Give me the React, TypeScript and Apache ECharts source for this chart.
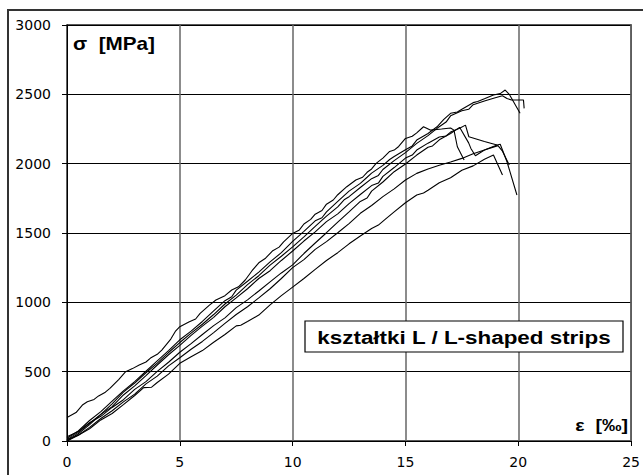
import React, { useEffect, useRef } from "react";
import * as echarts from "echarts";

const xTicks = { min: 0, max: 25, interval: 5 };
const yTicks = { min: 0, max: 3000, interval: 500 };

const yLabel = "σ  [MPa]";
const xLabel = "ε  [‰]";
const boxLabel = "kształtki L / L-shaped strips";

const curve1: number[][] = [
  [0, 170], [0.4, 205], [0.7, 262], [0.9, 283], [1.2, 300], [1.4, 325], [1.7, 352], [1.9, 380], [2.3, 445],
  [2.6, 500], [2.9, 522], [3.2, 548], [3.5, 570], [3.7, 598], [4.0, 625], [4.2, 656], [4.6, 735], [4.8, 790],
  [5, 824], [5.4, 858], [5.7, 880], [5.9, 920], [6.3, 978], [6.6, 1017], [7.0, 1048], [7.3, 1089], [7.6, 1112],
  [7.9, 1161], [8.2, 1228], [8.5, 1285], [8.8, 1318], [9.1, 1370], [9.4, 1398], [9.6, 1436], [10, 1497],
  [10.3, 1522], [10.5, 1565], [10.8, 1598], [11, 1636], [11.3, 1662], [11.5, 1708], [11.8, 1738], [12, 1776],
  [12.4, 1834], [12.8, 1882], [13.1, 1902], [13.3, 1938], [13.5, 1962], [13.7, 2002], [14.0, 2040],
  [14.3, 2088], [14.5, 2098], [14.7, 2124], [15, 2182], [15.3, 2198], [15.5, 2222], [15.8, 2266],
  [16.1, 2242], [16.6, 2250], [17, 2257], [17.15, 2242], [17.3, 2122], [17.6, 2026],
];

const curve2: number[][] = [
  [0, 20], [0.5, 72], [1, 148], [1.5, 212], [2, 288], [2.5, 362], [3, 428], [3.5, 503], [4, 578], [4.5, 652],
  [5, 730], [5.5, 792], [6, 862], [6.5, 938], [7, 1012], [7.3, 1040], [7.5, 1088], [8, 1152], [8.5, 1218],
  [9, 1292], [9.5, 1358], [10, 1440], [10.5, 1512], [11, 1588], [11.3, 1610], [11.5, 1652], [12, 1728],
  [12.5, 1802], [13, 1858], [13.3, 1902], [13.5, 1932], [14, 1988], [14.3, 2030], [14.5, 2052], [15, 2100],
  [15.3, 2128], [15.5, 2170], [16, 2218], [16.4, 2266], [16.7, 2320], [17, 2363], [17.3, 2372], [17.5, 2392],
  [18, 2440], [18.2, 2448], [18.5, 2468], [18.9, 2495], [19.2, 2505], [19.42, 2531], [19.6, 2500],
  [20.08, 2363],
];

const curve3: number[][] = [
  [0, 10], [0.5, 62], [1, 128], [1.5, 192], [2, 268], [2.5, 352], [3, 418], [3.5, 492], [4, 562], [4.5, 638],
  [5, 710], [5.5, 778], [6, 842], [6.5, 912], [7, 988], [7.5, 1052], [8, 1128], [8.5, 1192], [9, 1268],
  [9.5, 1332], [10, 1400], [10.5, 1472], [11, 1548], [11.5, 1622], [12, 1688], [12.3, 1742], [12.5, 1762],
  [13, 1828], [13.5, 1892], [13.8, 1915], [14, 1958], [14.5, 2022], [15, 2080], [15.5, 2146], [16, 2202],
  [16.4, 2255], [16.8, 2300], [17, 2345], [17.5, 2382], [17.8, 2392], [18, 2425], [18.5, 2452],
  [18.98, 2475], [19.3, 2490], [19.5, 2470], [19.7, 2459], [20.23, 2459], [20.26, 2399],
];

const curve4: number[][] = [
  [0, 0], [0.5, 52], [1, 118], [1.5, 192], [2, 248], [2.5, 332], [3, 398], [3.5, 472], [4, 548], [4.5, 622],
  [5, 690], [5.5, 762], [6, 828], [6.5, 892], [7, 968], [7.5, 1032], [8, 1098], [8.5, 1172], [9, 1228],
  [9.5, 1302], [10, 1370], [10.5, 1442], [11, 1508], [11.5, 1582], [12, 1638], [12.5, 1712], [13, 1778],
  [13.5, 1842], [13.8, 1860], [14, 1908], [14.5, 1972], [15, 2040], [15.3, 2062], [15.5, 2098], [16, 2148],
  [16.5, 2192], [16.8, 2200], [17, 2228], [17.4, 2256], [17.66, 2278], [17.81, 2194], [18.5, 2160],
  [19.06, 2134], [19.2, 2140], [19.5, 2014], [19.94, 1774],
];

const curve5: number[][] = [
  [0, 30], [0.5, 68], [1, 132], [1.5, 178], [2, 242], [2.5, 298], [3, 372], [3.5, 428], [4, 502], [4.5, 568],
  [5, 640], [5.5, 702], [6, 768], [6.5, 832], [7, 888], [7.5, 962], [8, 1018], [8.5, 1082], [9, 1148],
  [9.5, 1212], [10, 1270], [10.5, 1352], [11, 1428], [11.5, 1502], [12, 1578], [12.5, 1652], [13, 1728],
  [13.3, 1752], [13.5, 1802], [14, 1868], [14.5, 1942], [15, 1998], [15.5, 2062], [16, 2118], [16.2, 2128],
  [16.5, 2172], [17, 2218], [17.4, 2262], [17.8, 2150], [17.9, 2110], [18.1, 2057], [18.5, 2098],
  [19.1, 2130], [19.3, 2090], [19.6, 1990],
];

const curve6: number[][] = [
  [0, 0], [0.5, 42], [1, 98], [1.5, 162], [2, 218], [2.5, 282], [3, 338], [3.5, 412], [4, 468], [4.5, 542],
  [5, 600], [5.5, 662], [6, 718], [6.5, 782], [7, 848], [7.5, 912], [8, 968], [8.5, 1032], [9, 1098],
  [9.5, 1172], [10, 1250], [10.5, 1308], [11, 1382], [11.5, 1438], [12, 1502], [12.5, 1568], [13, 1642],
  [13.5, 1698], [14, 1762], [14.5, 1818], [15, 1882], [15.5, 1930], [16, 1962], [16.5, 1988], [17, 2012],
  [17.5, 2038], [18, 2072], [18.5, 2098], [19.06, 2134],
];

const curve7: number[][] = [
  [0, 10], [0.5, 42], [1, 88], [1.5, 152], [2, 198], [2.5, 262], [3, 328], [3.4, 385], [3.75, 388], [4, 422],
  [4.5, 482], [5, 560], [5.5, 608], [6, 652], [6.5, 712], [7, 768], [7.5, 830], [7.7, 835], [8, 862],
  [8.5, 908], [9, 982], [9.5, 1048], [10, 1110], [10.5, 1172], [11, 1238], [11.5, 1302], [12, 1358],
  [12.5, 1422], [13, 1478], [13.5, 1532], [13.8, 1557], [14.1, 1598], [14.5, 1652], [15, 1718], [15.5, 1774],
  [15.8, 1788], [16, 1808], [16.5, 1862], [17, 1898], [17.5, 1952], [18, 1984], [18.5, 2032], [18.9, 2062],
  [19.1, 1990], [19.3, 1918],
];

const curves = [curve1, curve2, curve3, curve4, curve5, curve6, curve7];

export default function App() {
  const ref = useRef<HTMLDivElement>(null);
  useEffect(() => {
    if (!ref.current) return;
    const chart = echarts.init(ref.current, null, { renderer: "svg" });
    const axisFont = '"DejaVu Sans", sans-serif';
    chart.setOption({
      animation: false,
      backgroundColor: "#fff",
      grid: {
        left: 67, right: 8, top: 25, bottom: 34,
        show: true, borderColor: "#222", borderWidth: 1.5, containLabel: false,
      },
      xAxis: {
        type: "value", min: xTicks.min, max: xTicks.max, interval: xTicks.interval,
        axisLine: { show: true, lineStyle: { color: "#000", width: 1 } },
        axisTick: { show: true, length: 5, lineStyle: { color: "#000" } },
        axisLabel: { color: "#000", fontSize: 14, fontFamily: axisFont, margin: 14, formatter: (v: number) => String(v) },
        splitLine: { show: true, lineStyle: { color: "#666", width: 1.5 } },
      },
      yAxis: {
        type: "value", min: yTicks.min, max: yTicks.max, interval: yTicks.interval,
        axisLine: { show: true, lineStyle: { color: "#000", width: 1 } },
        axisTick: { show: true, length: 5, lineStyle: { color: "#000" } },
        axisLabel: { color: "#000", fontSize: 14, fontFamily: axisFont, margin: 16, formatter: (v: number) => String(v) },
        splitLine: { show: true, lineStyle: { color: "#000", width: 1 } },
      },
      series: curves.map((c) => ({
        type: "line",
        data: c,
        showSymbol: false,
        symbol: "none",
        lineStyle: { color: "#000", width: 1.1 },
        z: 3,
      })),
      graphic: [
        {
          type: "rect", silent: true,
          shape: { x: 8, y: 10, width: 700, height: 600 },
          style: { fill: "none", stroke: "#333", lineWidth: 2 },
        },
        {
          type: "text", x: 73, y: 44, scaleX: 1.15,
          style: { text: yLabel, font: 'bold 18px "Liberation Sans", Arial, sans-serif', fill: "#000", verticalAlign: "middle", align: "left" },
        },
        {
          type: "text", x: 628, y: 425, scaleX: 1.15,
          style: { text: xLabel, font: 'bold 17px "Liberation Sans", Arial, sans-serif', fill: "#000", verticalAlign: "middle", align: "right" },
        },
        {
          type: "rect", z: 10,
          shape: { x: 305, y: 321, width: 318, height: 31 },
          style: { fill: "#fff", stroke: "#000", lineWidth: 1.2 },
        },
        {
          type: "text", z: 11, x: 464, y: 337, scaleX: 1.18,
          style: { text: boxLabel, font: 'bold 19px "Liberation Sans", Arial, sans-serif', fill: "#000", verticalAlign: "middle", align: "center" },
        },
      ],
    });
    return () => chart.dispose();
  }, []);
  return <div ref={ref} style={{ position: "fixed", left: 0, top: 0, width: 643, height: 475 }} />;
}
